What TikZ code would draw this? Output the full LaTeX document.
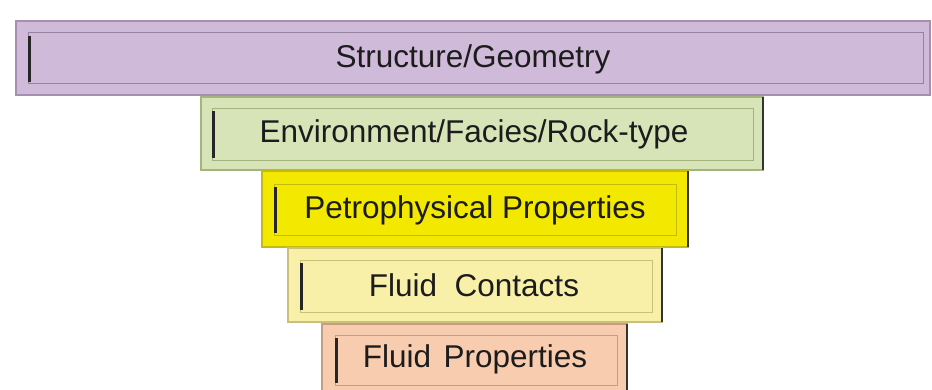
\documentclass[tikz,border=0pt]{standalone}
\usepackage{fontspec}
\setmainfont{Liberation Sans}
\definecolor{pfill}{HTML}{CFBAD9}
\definecolor{pedge}{HTML}{A78FB2}
\definecolor{gfill}{HTML}{D7E4B8}
\definecolor{gedge}{HTML}{A5B47F}
\definecolor{yfill}{HTML}{F3E800}
\definecolor{yedge}{HTML}{C4BB10}
\definecolor{lyfill}{HTML}{F8F0A8}
\definecolor{lyedge}{HTML}{CBC07A}
\definecolor{sfill}{HTML}{F8CCAE}
\definecolor{sedge}{HTML}{C59E82}
\definecolor{txt}{HTML}{1C1C1C}
\begin{document}
\begin{tikzpicture}[x=1pt,y=1pt]
\tikzset{
  outerbox/.style 2 args={draw=#2, fill=#1, line width=1.8pt, inner sep=0pt, outer sep=0pt},
  innerbox/.style={draw=#1, line width=1pt, inner sep=0pt, outer sep=0pt},
  lbl/.style={text=txt, font=\fontsize{31.5}{36}\selectfont, inner sep=0pt},
  darkbar/.style={draw=black!85, line width=3pt},
  darkedge/.style={draw=black!80, line width=2pt}
}
\useasboundingbox (0,0) rectangle (932,389);
\fill[white] (0,0) rectangle (932,389);
% bar 1
\node[outerbox={pfill}{pedge}, minimum width=914, minimum height=74] (o1) at (473,331) {};
\node[innerbox=pedge!90!black, minimum width=895, minimum height=51] (i1) at (475.5,330.5) {};
\coordinate (a1) at (29,353); \coordinate (b1) at (29,307);
\draw[darkbar] (a1) -- (b1);
\node[lbl] (t1) at (473,329.5) {Structure/Geometry};
% bar 2
\node[outerbox={gfill}{gedge}, minimum width=562, minimum height=73] (o2) at (482,255.5) {};
\node[innerbox=gedge, minimum width=541, minimum height=51] (i2) at (482.5,254.5) {};
\coordinate (a2) at (213,278); \coordinate (b2) at (213,231);
\draw[darkbar] (a2) -- (b2);
\draw[darkedge] (o2.north east) -- (o2.south east);
\node[lbl] (t2) at (474,254.5) {Environment/Facies/Rock-type};
% bar 3
\node[outerbox={yfill}{yedge}, minimum width=426, minimum height=76] (o3) at (475,180) {};
\node[innerbox=yedge, minimum width=402, minimum height=51] (i3) at (475,179.5) {};
\coordinate (a3) at (275,202); \coordinate (b3) at (275,156);
\draw[darkbar] (a3) -- (b3);
\draw[darkedge] (o3.north east) -- (o3.south east);
\node[lbl] (t3) at (475,178.5) {Petrophysical Properties};
% bar 4
\node[outerbox={lyfill}{lyedge}, minimum width=374, minimum height=74] (o4) at (475,104) {};
\node[innerbox=lyedge, minimum width=352, minimum height=52] (i4) at (476,103) {};
\coordinate (a4) at (301,126); \coordinate (b4) at (301,79);
\draw[darkbar] (a4) -- (b4);
\draw[darkedge] (o4.north east) -- (o4.south east);
\node[lbl] (t4) at (474,103.5) {Fluid\ \ Contacts};
% bar 5
\node[outerbox={sfill}{sedge}, minimum width=305, minimum height=71] (o5) at (474.5,29.5) {};
\node[innerbox=sedge, minimum width=282, minimum height=50] (i5) at (476,29) {};
\coordinate (a5) at (336,51); \coordinate (b5) at (336,6);
\draw[darkbar] (a5) -- (b5);
\draw[darkedge] (o5.north east) -- (o5.south east);
\node[lbl] (t5) at (475,29.5) {Fluid\hspace{0.4em}Properties};
\end{tikzpicture}
\end{document}
